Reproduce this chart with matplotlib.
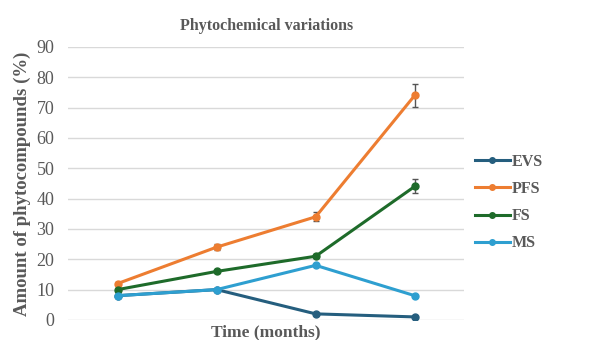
import numpy as np
import matplotlib.pyplot as plt
from matplotlib.lines import Line2D

# data
months = [1, 2, 3, 4]
evs = [8, 10, 2, 1]
pfs = [12, 24, 34, 74]
fs = [10, 16, 21, 44]
ms = [8, 10, 18, 8]
pfs_err = [0.5, 1.0, 1.5, 3.7]
fs_err = [0.5, 0.5, 0.7, 2.3]

names = ['EVS', 'PFS', 'FS', 'MS']
colors = ['#255E7E', '#ED7D31', '#1E6B2A', '#2E9FD0']

plt.rcParams['font.family'] = ['Liberation Serif', 'DejaVu Serif']
grey = '#595959'

fig = plt.figure(figsize=(6.14, 3.4), dpi=100)
ax = fig.add_axes([0.111, 0.059, 0.645, 0.803])

x = np.arange(len(months)) + 0.5
ax.plot(x, evs, '-o', color=colors[0], lw=2.2, ms=5, zorder=3)
ax.errorbar(x, pfs, yerr=pfs_err, fmt='-o', color=colors[1], lw=2.2, ms=5,
            ecolor='#555555', elinewidth=1, capsize=2.5, zorder=3)
ax.errorbar(x, fs, yerr=fs_err, fmt='-o', color=colors[2], lw=2.2, ms=5,
            ecolor='#555555', elinewidth=1, capsize=2.5, zorder=3)
ax.plot(x, ms, '-o', color=colors[3], lw=2.2, ms=5, zorder=4)

ax.set_xlim(0, 4)
ax.set_ylim(0, 90)
ax.set_yticks(np.arange(0, 91, 10))
ax.set_xticks([])
ax.grid(axis='y', color='#d9d9d9', lw=1)
ax.set_axisbelow(True)
for s in ax.spines.values():
    s.set_visible(False)
ax.tick_params(axis='y', length=0, labelsize=13, labelcolor=grey, pad=10)

ax.set_title('Phytochemical variations', fontsize=11.5, fontweight='bold',
             color=grey, pad=12)
ax.set_ylabel('Amount of phytocompounds (%)', fontsize=13.5, fontweight='bold',
              color=grey, labelpad=4)
ax.set_xlabel('Time (months)', fontsize=12.5, fontweight='bold', color=grey,
              labelpad=3)

handles = [Line2D([], [], color=c, lw=2.2, marker='o', ms=4) for c in colors]
leg = ax.legend(handles, names, loc='center left', bbox_to_anchor=(0.99, 0.43),
                frameon=False, fontsize=11.5, handlelength=2.2,
                handletextpad=0.1, labelspacing=0.7)
for t in leg.get_texts():
    t.set_color(grey)
    t.set_fontweight('bold')

fig.savefig('out.png', dpi=100)
